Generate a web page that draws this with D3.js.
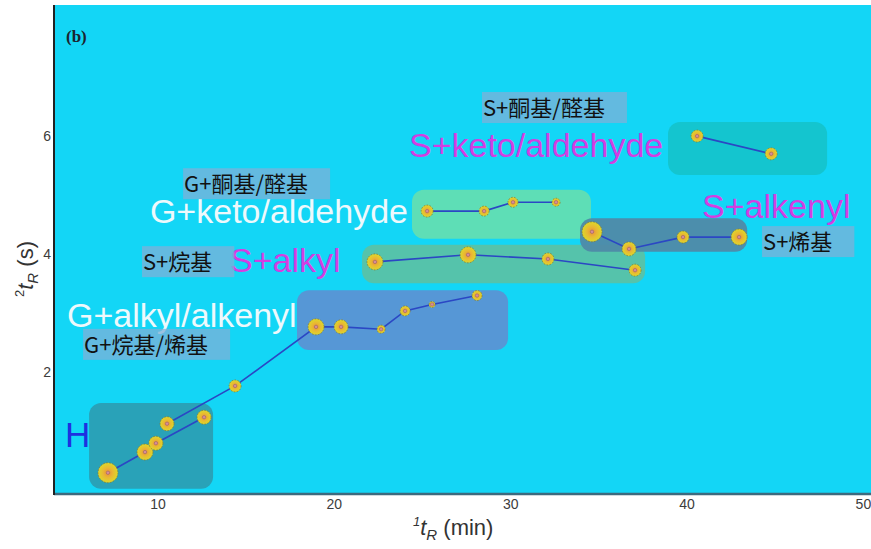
<!DOCTYPE html>
<html>
<head>
<meta charset="utf-8">
<script src="https://cdn.jsdelivr.net/npm/d3@7"></script>
<style>
  body { margin: 0; background: #fff; }
  svg { display: block; }
</style>
</head>
<body>
<svg id="chart"></svg>
<script>
// retention times: [1tR (min), 2tR (s), abundance]
const hPts = [[7.19, 0.30, 100], [9.29, 0.65, 64], [9.91, 0.80, 49], [10.54, 1.13, 49], [12.64, 1.24, 49], [14.40, 1.77, 36]];
const gAlkylPts = [[18.99, 2.77, 64], [20.41, 2.77, 49], [22.68, 2.73, 16], [24.04, 3.04, 25], [25.57, 3.15, 9], [28.12, 3.30, 25]];
const sAlkylPts = [[22.33, 3.87, 64], [27.61, 3.99, 64], [32.14, 3.92, 36], [37.08, 3.73, 36]];
const gKetoPts = [[25.29, 4.73, 36], [28.52, 4.73, 25], [30.16, 4.88, 25], [32.60, 4.88, 16]];
const sAlkenylPts = [[34.64, 4.38, 100], [36.74, 4.09, 49], [39.80, 4.29, 36], [42.98, 4.29, 64]];
const sKetoPts = [[40.60, 6.00, 36], [44.80, 5.70, 36]];

// connecting lines
const chains = [
  [hPts[0], hPts[1], hPts[2], hPts[4]],
  [hPts[3], hPts[5], ...gAlkylPts],
  sAlkylPts, gKetoPts, sAlkenylPts, sKetoPts
];

// group regions: [x0, x1, y0, y1]
const regions = [
  { name: "H", ext: [6.12, 13.15, 0.03, 1.48], fill: "#2a9fb4" },
  { name: "S+alkyl", ext: [21.60, 37.65, 3.51, 4.16], fill: "#58c2a6" },
  { name: "G+alkyl/alkenyl", ext: [17.91, 29.88, 2.38, 3.39], fill: "#5a94d4" },
  { name: "G+keto/aldehyde", ext: [24.43, 34.58, 4.26, 5.09], fill: "#62deb2" },
  { name: "S+alkenyl", ext: [33.96, 43.44, 4.04, 4.61], fill: "#4f8aa8" },
  { name: "S+keto/aldehyde", ext: [38.95, 47.97, 5.34, 6.24], fill: "#14c4cc" }
];

// group names: [text, x, y, colour]
const groupLabels = [
  ["H", 4.75, 0.74, "#1f30e0"],
  ["G+alkyl/alkenyl", 4.87, 2.77, "#eef9fc"],
  ["G+keto/aldehyde", 9.57, 4.53, "#eef9fc"],
  ["S+alkyl", 14.11, 3.70, "#d23ee2"],
  ["S+keto/aldehyde", 24.26, 5.65, "#d23ee2"],
  ["S+alkenyl", 40.88, 4.61, "#d23ee2"]
];

// chinese captions: [text, x, y]
const cnLabels = [
  ["S+酮基/醛基", 28.40, 6.34],
  ["G+酮基/醛基", 11.45, 5.05],
  ["S+烷基", 9.12, 3.73],
  ["G+烷基/烯基", 5.78, 2.33],
  ["S+烯基", 44.28, 4.07]
];

const xTicks = [10, 20, 30, 40, 50];
const yTicks = [2, 4, 6];

const W = 871, H = 549;
const margin = { top: 5, right: 0, bottom: 55, left: 54 };

const svg = d3.select("#chart").attr("width", W).attr("height", H);

const x = d3.scaleLinear().domain([4.13, 50.46]).range([margin.left, W - margin.right]);
const y = d3.scaleLinear().domain([-0.06, 8.22]).range([H - margin.bottom, margin.top]);
const r = d3.scaleSqrt().domain([0, 100]).range([0, 10]);

// plot background
svg.append("rect")
  .attr("x", margin.left).attr("y", margin.top)
  .attr("width", W - margin.right - margin.left)
  .attr("height", H - margin.bottom - margin.top)
  .attr("fill", "#13d6f6");

const defs = svg.append("defs");
const grad = defs.append("radialGradient").attr("id", "dotFill");
grad.append("stop").attr("offset", "0%").attr("stop-color", "#e98d3c");
grad.append("stop").attr("offset", "50%").attr("stop-color", "#e9b932");
grad.append("stop").attr("offset", "100%").attr("stop-color", "#dcd82a");

// regions
svg.append("g")
  .selectAll("rect")
  .data(regions)
  .join("rect")
  .attr("x", d => x(d.ext[0]))
  .attr("y", d => y(d.ext[3]))
  .attr("width", d => x(d.ext[1]) - x(d.ext[0]))
  .attr("height", d => y(d.ext[2]) - y(d.ext[3]))
  .attr("rx", 12)
  .attr("fill", d => d.fill)
  .attr("opacity", 0.95);

// group names
svg.append("g")
  .selectAll("text")
  .data(groupLabels)
  .join("text")
  .attr("x", d => x(d[1]))
  .attr("y", d => y(d[2]))
  .attr("fill", d => d[3])
  .style("font-family", "'Liberation Sans', Arial, sans-serif")
  .style("font-size", d => d[0] === "H" ? "35px" : "34px")
  .text(d => d[0]);

// lines
const line = d3.line().x(d => x(d[0])).y(d => y(d[1]));
svg.append("g")
  .selectAll("path")
  .data(chains)
  .join("path")
  .attr("d", line)
  .attr("fill", "none")
  .attr("stroke", "#2b47c4")
  .attr("stroke-width", 1.6);

// dots
const allPts = [...hPts, ...gAlkylPts, ...sAlkylPts, ...gKetoPts, ...sAlkenylPts, ...sKetoPts];
const dots = svg.append("g");
dots.selectAll("circle.dot")
  .data(allPts)
  .join("circle")
  .attr("class", "dot")
  .attr("cx", d => x(d[0]))
  .attr("cy", d => y(d[1]))
  .attr("r", d => r(d[2]))
  .attr("fill", "url(#dotFill)")
  .attr("stroke", "#8a7a34")
  .attr("stroke-width", 0.8)
  .attr("stroke-dasharray", "1.6,1.4");
dots.selectAll("circle.core")
  .data(allPts)
  .join("circle")
  .attr("class", "core")
  .attr("cx", d => x(d[0]))
  .attr("cy", d => y(d[1]))
  .attr("r", 1.7)
  .attr("fill", "#d88c96")
  .attr("stroke", "#8a5a66")
  .attr("stroke-width", 0.5);

// chinese captions with boxes
const cn = svg.append("g");
cnLabels.forEach(d => {
  const gg = cn.append("g");
  const box = gg.append("rect");
  const t = gg.append("text")
    .attr("x", x(d[1]) + 1)
    .attr("y", y(d[2]))
    .attr("fill", "#111")
    .style("font-family", "'Noto Sans CJK SC', sans-serif")
    .style("font-size", "22px")
    .text(d[0]);
  const len = t.node().getComputedTextLength();
  box.attr("x", x(d[1]))
    .attr("y", y(d[2]) - 24)
    .attr("width", len + 23)
    .attr("height", 31)
    .attr("fill", "#7fb0d8")
    .attr("opacity", 0.75);
});

// axes
const xAxis = svg.append("g")
  .attr("transform", `translate(0,${H - margin.bottom})`)
  .call(d3.axisBottom(x).tickValues(xTicks).tickSize(0).tickPadding(5));
const yAxis = svg.append("g")
  .attr("transform", `translate(${margin.left},0)`)
  .call(d3.axisLeft(y).tickValues(yTicks).tickSize(0).tickPadding(3));
[xAxis, yAxis].forEach(a => {
  a.select(".domain").remove();
  a.selectAll("text")
    .attr("fill", "#3c3c3c")
    .style("font-family", "'Liberation Sans', Arial, sans-serif")
    .style("font-size", "14px");
});

svg.append("line")
  .attr("x1", margin.left).attr("x2", W)
  .attr("y1", H - margin.bottom).attr("y2", H - margin.bottom)
  .attr("stroke", "#3d6a7e").attr("stroke-width", 2.5);
svg.append("line")
  .attr("x1", margin.left).attr("x2", margin.left)
  .attr("y1", margin.top).attr("y2", H - margin.bottom + 1)
  .attr("stroke", "#222").attr("stroke-width", 2);

// axis titles
const xt = svg.append("text")
  .attr("x", 413).attr("y", 535)
  .attr("fill", "#333")
  .style("font-family", "'Liberation Sans', Arial, sans-serif")
  .style("font-size", "22px");
xt.append("tspan").attr("dy", -9).style("font-size", "13px").style("font-style", "italic").text("1");
xt.append("tspan").attr("dy", 9).style("font-style", "italic").text("t");
xt.append("tspan").attr("dy", 5).style("font-size", "15px").style("font-style", "italic").text("R");
xt.append("tspan").attr("dy", -5).text(" (min)");

const yt = svg.append("text")
  .attr("transform", "translate(33,297) rotate(-90)")
  .attr("fill", "#333")
  .style("font-family", "'Liberation Sans', Arial, sans-serif")
  .style("font-size", "22px");
yt.append("tspan").attr("dy", -9).style("font-size", "13px").text("2");
yt.append("tspan").attr("dy", 9).style("font-style", "italic").text("t");
yt.append("tspan").attr("dy", 5).style("font-size", "15px").style("font-style", "italic").text("R");
yt.append("tspan").attr("dy", -5).text(" (s)");

// panel tag
svg.append("text")
  .attr("x", 66).attr("y", 42)
  .attr("fill", "#1c2430")
  .style("font-family", "'Liberation Serif', 'Times New Roman', serif")
  .style("font-weight", "bold")
  .style("font-size", "17px")
  .text("(b)");
</script>
</body>
</html>
